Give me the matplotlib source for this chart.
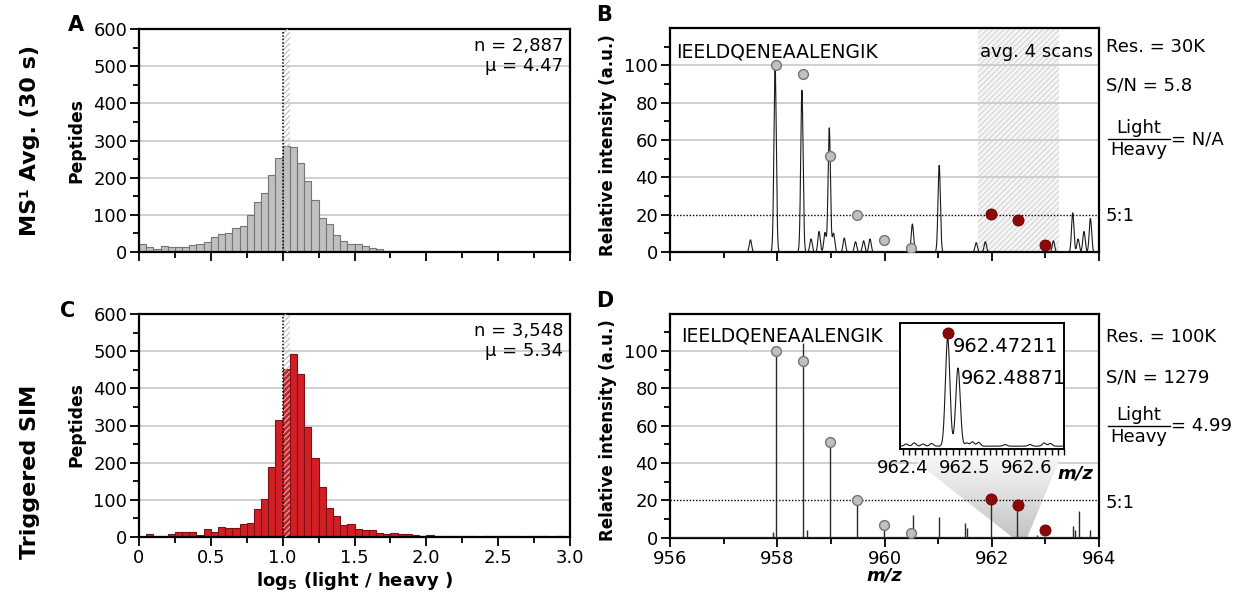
import numpy as np
import matplotlib
matplotlib.use('Agg')
import matplotlib.pyplot as plt
from matplotlib.ticker import MultipleLocator, FixedLocator
from matplotlib.patches import Polygon
from matplotlib.lines import Line2D

# ---------------- data ----------------
bin_width = 0.05
counts_ms1 = [22, 13, 7, 16, 13, 13, 13, 18, 22, 27,
              40, 48, 51, 65, 71, 99, 134, 160, 206, 252,
              285, 282, 239, 191, 141, 91, 74, 47, 30, 22,
              21, 17, 11, 7, 3, 3, 3, 3, 2, 2,
              1, 1, 1, 0, 1, 1, 0, 1, 1, 0,
              1, 0, 0, 0, 1, 0, 0, 0, 0, 0]
counts_sim = [1, 9, 3, 3, 7, 13, 14, 13, 5, 22,
              14, 27, 25, 25, 35, 37, 76, 102, 187, 316,
              452, 493, 438, 295, 213, 135, 78, 57, 31, 35,
              22, 18, 20, 10, 8, 10, 7, 7, 5, 4,
              6, 4, 2, 2, 3, 3, 2, 1, 2, 2,
              3, 3, 2, 1, 2, 3, 3, 1, 3, 1]
ms1_stats = ["n = 2,887", "\u03bc = 4.47"]
sim_stats = ["n = 3,548", "\u03bc = 5.34"]
hist_xticklabels = ["0", "0.5", "1.0", "1.5", "2.0", "2.5", "3.0"]

peptide = "IEELDQENEAALENGIK"
# MS1 averaged profile peaks (m/z, relative intensity)
ms1_peak_mz = [957.50, 957.96, 958.46, 958.63, 958.78, 958.89, 958.97, 959.05,
               959.25, 959.46, 959.61, 959.73, 960.52, 961.02, 961.71, 961.88,
               963.15, 963.51, 963.61, 963.72, 963.84]
ms1_peak_int = [6.5, 100, 86.6, 7, 11, 10.4, 66.5, 10,
                7.5, 5.5, 6, 7, 15, 46.4, 5, 5.5,
                6, 21, 7, 11, 18]
ms1_peak_sigma = 0.022
avg_scan_window = (961.75, 963.25)

# isotope envelopes (light = grey, heavy = red)
light_mz = [957.98, 958.48, 958.98, 959.48, 959.99, 960.49]
heavy_mz = [961.99, 962.49, 962.99]
light_int_ms1 = [100, 95.2, 51.2, 19.9, 6.5, 2.0]
heavy_int_ms1 = [20.3, 17.2, 3.6]
light_int_sim = [100, 94.8, 51.4, 20.2, 6.6, 2.3]
heavy_int_sim = [20.6, 17.5, 4.1]

# SIM centroid sticks
sim_stick_mz = [957.93, 957.98, 958.48, 958.55, 958.98, 959.48, 959.99, 960.53,
                961.02, 961.50, 961.53, 961.98, 962.48, 962.85, 963.51, 963.55,
                963.62, 963.84]
sim_stick_int = [3.3, 100, 104, 4, 51, 20, 5, 12,
                 11.3, 7.7, 5, 20.6, 17.5, 1.5, 6, 4,
                 14.3, 4]

# inset (zoom on 962.47) profile peaks
inset_peak_mz = [962.405, 962.418, 962.432, 962.446, 962.472, 962.4887,
                 962.503, 962.512, 962.522, 962.565, 962.605, 962.628, 962.638]
inset_peak_int = [2, 3, 2, 2.5, 100, 72, 3, 4, 3.5, 1.5, 1.5, 3, 2.5]
inset_peak_sigma = [0.003, 0.003, 0.003, 0.003, 0.0036, 0.0036,
                    0.003, 0.003, 0.003, 0.003, 0.003, 0.003, 0.003]
inset_labels = ["962.47211", "962.48871"]
inset_xticklabels = ["962.4", "962.5", "962.6"]

ms1_info = ["Res. = 30K", "S/N = 5.8", "= N/A"]
sim_info = ["Res. = 100K", "S/N = 1279", "= 4.99"]

# ---------------- style ----------------
W, H = 1233, 592
plt.rcParams['font.family'] = ['DejaVu Sans']
plt.rcParams['mathtext.fontset'] = 'dejavusans'
plt.rcParams['hatch.linewidth'] = 0.8
FS = 13
GRID = '#c8c8c8'
GREY_FACE, GREY_EDGE = '#c0c0c0', '#757575'
RED_FACE, RED_EDGE = '#d21f26', '#7d1012'
DARK_RED = '#8a0a0a'

fig = plt.figure(figsize=(W / 100, H / 100), dpi=100)


def rect(l, t, r, b):
    return [l / W, 1 - b / H, (r - l) / W, (b - t) / H]


def fxy(x, y):
    return x / W, 1 - y / H


def style_axes(ax):
    for s in ax.spines.values():
        s.set_linewidth(1.6)
    ax.tick_params(which='both', direction='out', width=1.3, labelsize=FS,
                   top=False, right=False)
    ax.tick_params(which='major', length=6.5, pad=2)
    ax.tick_params(which='minor', length=4)


def hist_panel(ax, counts, face, edge, stats, show_xlabels):
    edges = np.arange(len(counts)) * bin_width
    ax.bar(edges, counts, width=bin_width, align='edge', color=face,
           edgecolor=edge, linewidth=0.8, zorder=2)
    ax.set_xlim(0, bin_width * len(counts))
    ax.set_ylim(0, 600)
    ax.yaxis.set_major_locator(MultipleLocator(100))
    ax.yaxis.set_minor_locator(MultipleLocator(50))
    ax.xaxis.set_major_locator(MultipleLocator(0.5))
    ax.xaxis.set_minor_locator(MultipleLocator(0.25))
    for yv in range(100, 600, 100):
        ax.axhline(yv, color=GRID, lw=1.2, zorder=1)
    ax.axvspan(1.0, 1.05, facecolor='none', edgecolor='#bdbdbd', hatch='//////',
               lw=0, zorder=3)
    ax.axvline(1.0, color='black', lw=1.1, ls=(0, (1, 1.2)), zorder=4)
    style_axes(ax)
    if show_xlabels:
        ax.set_xticks(np.arange(len(hist_xticklabels)) * 0.5)
        ax.set_xticklabels(hist_xticklabels)
    else:
        ax.set_xticklabels([])
    ax.text(0.985, 0.965, stats[0] + "\n" + stats[1], transform=ax.transAxes,
            ha='right', va='top', fontsize=FS, linespacing=1.15, zorder=5)


def spec_common(ax):
    ax.set_xlim(956, 964)
    ax.set_ylim(0, 120)
    ax.yaxis.set_major_locator(FixedLocator([0, 20, 40, 60, 80, 100]))
    ax.yaxis.set_minor_locator(FixedLocator([10, 30, 50, 70, 90, 110]))
    ax.xaxis.set_major_locator(MultipleLocator(2))
    ax.xaxis.set_minor_locator(MultipleLocator(1))
    for yv in (40, 60, 80, 100):
        ax.axhline(yv, color=GRID, lw=1.2, zorder=1)
    ax.axhline(20, color='black', lw=1.0, ls=(0, (1, 1.3)), zorder=6)
    style_axes(ax)


# ---------- panel A ----------
axA = fig.add_axes(rect(139, 29, 570, 252))
hist_panel(axA, counts_ms1, GREY_FACE, GREY_EDGE, ms1_stats, False)

# ---------- panel C ----------
axC = fig.add_axes(rect(139, 314, 570, 537))
hist_panel(axC, counts_sim, RED_FACE, RED_EDGE, sim_stats, True)
fig.text(*fxy(354, 581), r'log$_{\bf 5}$ (light / heavy )', ha='center', va='center',
         fontsize=13, fontweight='bold')

for y in (140.5, 425):
    fig.text(*fxy(76, y), 'Peptides', rotation=90, ha='center', va='center',
             fontsize=12.3, fontweight='bold')

# ---------- panel B ----------
axB = fig.add_axes(rect(670, 28, 1099, 252))
spec_common(axB)
axB.set_xticklabels([])
axB.axvspan(*avg_scan_window, facecolor='#f6f6f6', edgecolor='#d4d4d4',
            hatch='//////', lw=0, zorder=0.5)
mzgrid = np.linspace(956, 964, 6000)
prof = np.zeros_like(mzgrid)
for m, h in zip(ms1_peak_mz, ms1_peak_int):
    prof += h * np.exp(-(mzgrid - m) ** 2 / (2 * ms1_peak_sigma ** 2))
axB.plot(mzgrid, prof, color='#1a1a1a', lw=0.8, zorder=4)
axB.scatter(light_mz, light_int_ms1, s=50, facecolor=GREY_FACE, edgecolor=GREY_EDGE,
            linewidth=1.0, zorder=7)
axB.scatter(heavy_mz, heavy_int_ms1, s=64, facecolor=DARK_RED, edgecolor='#6a0000',
            linewidth=0.6, zorder=7)
axB.text(0.015, 0.895, peptide, transform=axB.transAxes, ha='left', va='center',
         fontsize=13.5, zorder=8)
axB.text(0.985, 0.895, 'avg. 4 scans', transform=axB.transAxes, ha='right',
         va='center', fontsize=13, zorder=8)

# ---------- panel D ----------
axD = fig.add_axes(rect(670, 313.5, 1099, 537.7))
spec_common(axD)
axD.vlines(sim_stick_mz, 0, sim_stick_int, color='#2a2a2a', lw=1.0, zorder=4)
axD.axhline(0.4, color='#2a2a2a', lw=0.6, zorder=3)
axD.scatter(light_mz, light_int_sim, s=50, facecolor=GREY_FACE, edgecolor=GREY_EDGE,
            linewidth=1.0, zorder=7)
axD.scatter(heavy_mz, heavy_int_sim, s=64, facecolor=DARK_RED, edgecolor='#6a0000',
            linewidth=0.6, zorder=7)
axD.text(0.025, 0.9, peptide, transform=axD.transAxes, ha='left', va='center',
         fontsize=13.5, zorder=8)
fig.text(*fxy(884, 576), 'm/z', ha='center', va='center', fontsize=13,
         fontweight='bold', fontstyle='italic')

for y in (145, 430):
    fig.text(*fxy(608, y), 'Relative intensity (a.u.)', rotation=90, ha='center',
             va='center', fontsize=12, fontweight='bold')

# ---------- inset ----------
inset_rect = (900, 323, 1064, 449)
axI = fig.add_axes(rect(*inset_rect))
axI.set_zorder(axD.get_zorder() + 1)
axI.set_xlim(962.395, 962.66)
axI.set_ylim(-2, 114)
ig = np.linspace(962.395, 962.66, 3000)
ip = np.full_like(ig, 0.6)
for m, h, s in zip(inset_peak_mz, inset_peak_int, inset_peak_sigma):
    ip += h * np.exp(-(ig - m) ** 2 / (2 * s ** 2))
axI.plot(ig, ip, color='#1a1a1a', lw=0.8)
axI.scatter([inset_peak_mz[4]], [105], s=64, facecolor=DARK_RED, edgecolor='#6a0000',
            linewidth=0.6, zorder=5, clip_on=False)
axI.text(inset_peak_mz[4] + 0.0075, 92, inset_labels[0], ha='left', va='center',
         fontsize=14)
axI.text(inset_peak_mz[5] + 0.004, 63, inset_labels[1], ha='left', va='center',
         fontsize=14)
axI.set_yticks([])
axI.set_xticks([962.4, 962.5, 962.6])
axI.set_xticklabels(inset_xticklabels)
axI.xaxis.set_minor_locator(MultipleLocator(0.01))
for s in axI.spines.values():
    s.set_linewidth(1.4)
axI.tick_params(which='both', direction='out', length=4, width=1.0, labelsize=FS,
                pad=3)
fig.text(*fxy(1075, 473), 'm/z', ha='center', va='center', fontsize=13,
         fontweight='bold', fontstyle='italic')

# zoom trapezoid (inset bottom corners -> inset m/z range on D baseline)
to_data = axD.transData.inverted()
bl = to_data.transform(fig.transFigure.transform(fxy(inset_rect[0], inset_rect[3])))
br = to_data.transform(fig.transFigure.transform(fxy(inset_rect[2], inset_rect[3])))
x0, x1 = axI.get_xlim()
poly = Polygon([bl, br, (x1, 0), (x0, 0)], closed=True, facecolor='none',
               edgecolor='none')
axD.add_patch(poly)
grad = np.linspace(0, 1, 256).reshape(-1, 1)
im = axD.imshow(grad, cmap=plt.matplotlib.colors.LinearSegmentedColormap.from_list(
    'g', ['#fcfcfc', '#c4c4c4']), aspect='auto',
    extent=(bl[0], br[0], 0, bl[1]), origin='upper', zorder=2)
im.set_clip_path(poly)
axD.set_xlim(956, 964)
axD.set_ylim(0, 120)

# ---------- right side annotations ----------
def side_info(info, y_res, y_sn, y_frac, y_51):
    fig.text(*fxy(1106, y_res), info[0], ha='left', va='center', fontsize=13)
    fig.text(*fxy(1106, y_sn), info[1], ha='left', va='center', fontsize=13)
    fig.text(*fxy(1139, y_frac - 11), 'Light', ha='center', va='center', fontsize=13)
    fig.text(*fxy(1139, y_frac + 11), 'Heavy', ha='center', va='center', fontsize=13)
    fig.add_artist(Line2D([1108 / W, 1170 / W], [1 - y_frac / H] * 2, color='black',
                          lw=1.0))
    fig.text(*fxy(1171, y_frac), info[2], ha='left', va='center', fontsize=13)
    fig.text(*fxy(1106, y_51), '5:1', ha='left', va='center', fontsize=13)


side_info(ms1_info, 47, 86, 139, 216)
side_info(sim_info, 337, 377, 426, 503)

# ---------- panel letters & row labels ----------
for ch, (x, y) in zip('ABCD', [(76, 25), (604, 15), (68, 311), (605, 301)]):
    fig.text(*fxy(x, y), ch, ha='center', va='center', fontsize=15, fontweight='bold')
fig.text(*fxy(30, 140), 'MS\u00b9 Avg. (30 s)', rotation=90, ha='center', va='center',
         fontsize=16, fontweight='bold')
fig.text(*fxy(30, 472), 'Triggered SIM', rotation=90, ha='center', va='center',
         fontsize=16, fontweight='bold')

fig.savefig('out.png', dpi=100)
